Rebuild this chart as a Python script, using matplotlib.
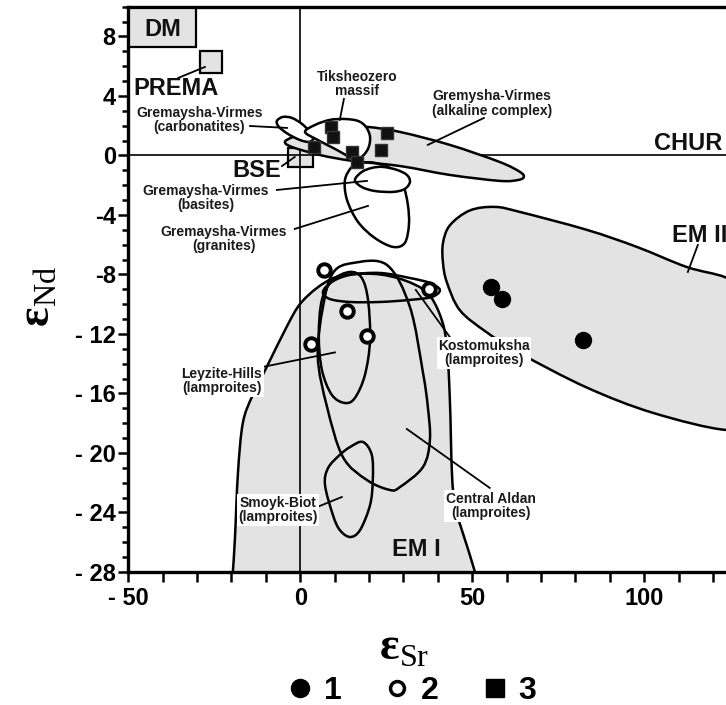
import numpy as np
import matplotlib
matplotlib.use("Agg")
import matplotlib.pyplot as plt
from matplotlib.path import Path
from matplotlib.patches import PathPatch, Rectangle
from matplotlib.lines import Line2D

plt.rcParams['font.family'] = ['Liberation Sans', 'DejaVu Sans']
plt.rcParams['mathtext.fontset'] = 'custom'
plt.rcParams['mathtext.rm'] = 'Liberation Serif'
plt.rcParams['mathtext.bf'] = 'Liberation Serif:bold'

# samples (eSr, eNd): 1 - filled circles, 2 - open circles, 3 - squares
sr1 = [55.4, 58.6, 82.2]
nd1 = [-8.84, -9.65, -12.40]
sr2 = [6.9, 37.4, 13.6, 19.4, 3.1]
nd2 = [-7.70, -8.97, -10.45, -12.13, -12.67]
sr3 = [8.9, 9.5, 4.0, 15.0, 16.5, 23.5, 25.2]
nd3 = [1.92, 1.24, 0.57, 0.24, -0.44, 0.37, 1.51]
legendLabels = ['1', '2', '3']

xTicks = [-50, 0, 50, 100]
xTickLabels = ['- 50', '0', '50', '100']
yTicks = [-28, -24, -20, -16, -12, -8, -4, 0, 4, 8]
yTickLabels = ['- 28', '- 24', '- 20', '- 16', '- 12', '-8', '-4', '0', '4', '8']

# outlines of the fields (eSr, eNd)
em1 = [(-19.9, -29.0), (-19.6, -28.0), (-19.0, -25.8), (-18.1, -21.3), (-16.7, -18.0),
       (-14.0, -16.2), (-9.7, -14.2), (-3.9, -11.5), (-0.1, -10.0), (4.9, -8.9),
       (10.1, -8.2), (15.9, -7.97), (23.2, -8.0), (30.4, -8.4), (36.8, -9.2),
       (40.6, -10.7), (42.6, -12.7), (43.5, -16.4), (44.1, -21.3), (45.0, -23.6),
       (47.3, -25.4), (50.8, -28.0), (51.4, -29.0)]
em2 = [(41.5, -7.2), (41.5, -5.9), (43.5, -4.7), (49.3, -3.7), (56.6, -3.46),
       (63.9, -3.8), (83.3, -5.0), (97.9, -6.15), (112.4, -7.5), (123.7, -8.2),
       (131.0, -9.3), (134.0, -13.0), (131.0, -17.8), (123.7, -18.45), (102.5, -17.3),
       (83.3, -15.6), (63.9, -13.3), (54.3, -11.9), (46.4, -10.4), (42.6, -8.5)]
alkaline = [(-4.45, 0.91), (-2.1, 1.24), (2.8, 1.58), (11.5, 1.92), (19.4, 1.92),
            (29.0, 1.58), (43.5, 0.71), (58.0, -0.44), (63.9, -1.11), (65.0, -1.45),
            (63.3, -1.65), (58.0, -1.71), (43.5, -1.31), (29.0, -0.71), (15.3, -0.37),
            (5.7, 0.03), (-2.4, 0.57)]
tiksheozero = [(1.4, 1.58), (4.3, 2.05), (8.6, 2.39), (13.0, 2.45), (16.8, 2.32),
               (19.1, 1.92), (20.3, 1.24), (19.7, 0.44), (17.4, -0.17), (15.0, -0.17),
               (10.1, 0.44), (5.1, 1.04)]
carbonatites = [(-6.8, 2.32), (-5.0, 2.59), (-2.4, 2.52), (0.5, 2.12), (2.8, 1.58),
                (3.7, 1.11), (2.5, 0.91), (-0.1, 1.04), (-3.6, 1.45), (-6.2, 1.92)]
basites = [(15.9, -1.65), (17.9, -1.11), (20.8, -0.84), (24.0, -0.77), (28.1, -0.97),
           (31.0, -1.31), (31.9, -1.78), (30.4, -2.25), (27.0, -2.45), (21.7, -2.39),
           (17.9, -2.12)]
granites = [(15.0, -0.77), (13.0, -1.65), (13.6, -2.99), (16.8, -4.47), (21.7, -5.55),
            (27.0, -6.15), (30.4, -5.88), (31.6, -4.67), (31.3, -3.33), (29.9, -1.98),
            (27.0, -0.97), (21.7, -0.5), (17.4, -0.5)]
leyzite = [(14.5, -7.83), (17.9, -8.24), (19.7, -9.71), (20.3, -12.4), (18.8, -14.76),
           (15.9, -16.3), (13.0, -16.64), (9.2, -16.1), (6.3, -14.42), (5.4, -12.07),
           (6.3, -9.71), (9.5, -8.37)]
kostomuksha = [(6.6, -9.18), (9.2, -8.5), (14.5, -8.03), (23.2, -7.9), (31.9, -8.24),
               (37.7, -8.57), (40.6, -9.04), (38.3, -9.51), (31.9, -9.71), (23.2, -9.85),
               (14.5, -9.85), (8.6, -9.65)]
aldan = [(15.3, -7.23), (25.2, -7.36), (31.9, -10.19), (35.7, -14.62), (37.1, -16.91),
         (37.7, -19.13), (35.7, -20.94), (29.0, -22.29), (26.1, -22.49), (19.4, -21.82),
         (12.4, -20.27), (7.8, -16.91), (5.1, -13.55), (6.6, -10.19), (9.5, -7.9)]
smoyk = [(18.2, -19.26), (20.8, -20.13), (21.1, -21.82), (20.3, -23.5), (17.4, -25.18),
         (14.5, -25.65), (11.5, -25.18), (9.5, -24.17), (7.2, -22.15), (8.1, -21.01),
         (11.5, -20.13), (14.5, -19.6)]


def smooth(pts):
    # closed catmull-rom outline turned into bezier segments
    p = np.array(pts, float)
    n = len(p)
    verts = [p[0]]
    codes = [Path.MOVETO]
    for i in range(n):
        p0, p1, p2, p3 = p[i - 1], p[i], p[(i + 1) % n], p[(i + 2) % n]
        verts += [p1 + (p2 - p0) / 6, p2 - (p3 - p1) / 6, p2]
        codes += [Path.CURVE4] * 3
    verts.append(p[0])
    codes.append(Path.CLOSEPOLY)
    return Path(verts, codes)


grey = '#e3e3e3'
fig = plt.figure(figsize=(7.26, 7.05), dpi=100)
ax = fig.add_axes([0.1767, 0.1887, 0.829, 0.8018])
ax.set_xlim(-50, 125)
ax.set_ylim(-28, 10)


def field(pts, fc='none', z=4):
    ax.add_patch(PathPatch(smooth(pts), fc=fc, ec='black', lw=1.8, zorder=z))


field(em1, grey, 1)
field(em2, grey, 1)
ax.axvline(0, color='black', lw=1.2, zorder=2)
ax.axhline(0, color='black', lw=1.2, zorder=2)

# reservoirs
ax.add_patch(Rectangle((-49.7, 7.29), 19.4, 2.6, fc=grey, ec='black', lw=1.6, zorder=3))
ax.add_patch(Rectangle((-29.1, 5.55), 6.4, 1.48, fc=grey, ec='black', lw=1.6, zorder=3))
ax.add_patch(Rectangle((-3.6, -0.77), 7.3, 1.27, fc=grey, ec='black', lw=1.6, zorder=1.5))

field(alkaline, grey, 3)
field(carbonatites, 'white', 4)
field(tiksheozero, 'white', 4)
field(granites, 'none', 4)
field(basites, 'white', 4)
for f in [leyzite, kostomuksha, aldan, smoyk]:
    field(f, 'none', 4)

# leader lines
leaders = [((-35.5, 5.21), (-27.7, 5.95)), ((-14.6, 1.98), (-3.85, 1.85)),
           ((12.7, 3.8), (11.5, 2.39)), ((53.4, 2.52), (37.1, 0.71)),
           ((-5.3, -0.71), (-1.6, -0.1)), ((-6.8, -2.32), (19.4, -1.71)),
           ((-1.6, -4.94), (19.7, -3.39)), ((115.6, -6.02), (112.7, -7.83)),
           ((-16.1, -14.46), (10.1, -13.24)), ((44.1, -12.4), (33.6, -9.04)),
           ((55.1, -22.35), (31.0, -18.39)), ((4.85, -23.64), (12.1, -22.96))]
for a, b in leaders:
    ax.plot([a[0], b[0]], [a[1], b[1]], color='black', lw=1.3, zorder=5)

small = dict(fontsize=10, fontweight='bold', color='#1a1a1a', ha='center', va='center',
             linespacing=1.05, zorder=6)
box = dict(fc='white', ec='none', pad=1)
ax.text(-29.4, 2.39, 'Gremaysha-Virmes\n(carbonatites)', **small)
ax.text(16.5, 4.81, 'Tiksheozero\nmassif', **small)
ax.text(55.7, 3.5, 'Gremysha-Virmes\n(alkaline complex)', **small)
ax.text(-27.4, -2.86, 'Gremaysha-Virmes\n(basites)', **small)
ax.text(-22.2, -5.61, 'Gremaysha-Virmes\n(granites)', **small)
ax.text(-22.8, -15.16, 'Leyzite-Hills\n(lamproites)', bbox=box, **small)
ax.text(53.4, -13.28, 'Kostomuksha\n(lamproites)', bbox=box, **small)
ax.text(55.4, -23.56, 'Central Aldan\n(lamproites)', bbox=box, **small)
ax.text(-6.4, -23.83, 'Smoyk-Biot\n(lamproites)', bbox=box, **small)

big = dict(fontsize=17, fontweight='bold', color='#111111', va='center', zorder=6)
ax.text(-39.9, 8.5, 'DM', ha='center', **big)
ax.text(-48.6, 4.47, 'PREMA', ha='left', **big)
ax.text(-12.6, -1.04, 'BSE', ha='center', **big)
ax.text(122.6, 0.83, 'CHUR', ha='right', **big)
ax.text(108.0, -5.41, 'EM II', ha='left', **big)
ax.text(33.9, -26.52, 'EM I', ha='center', **big)

ax.plot(sr1, nd1, 'o', ms=11.5, color='black', zorder=7)
ax.plot(sr2, nd2, 'o', ms=9, mfc='white', mec='black', mew=2.8, zorder=7)
ax.plot(sr3, nd3, 's', ms=9, mfc='#111111', mec='#333333', mew=1, zorder=7)

ax.spines['right'].set_visible(False)
for s in ['left', 'bottom', 'top']:
    ax.spines[s].set_linewidth(2.4)

ax.set_xticks(xTicks)
ax.set_xticklabels(xTickLabels)
ax.set_xticks(np.arange(-50, 126, 10), minor=True)
ax.set_yticks(yTicks)
ax.set_yticklabels(yTickLabels)
ax.set_yticks(np.arange(-28, 11, 1), minor=True)
ax.tick_params(axis='x', which='both', length=7, width=1.8, pad=4)
ax.tick_params(axis='y', which='major', length=7, width=1.8, pad=2)
ax.tick_params(axis='y', which='minor', length=4.5, width=1.8)
for lab in ax.get_xticklabels() + ax.get_yticklabels():
    lab.set_fontweight('bold')
    lab.set_fontsize(17)

fig.text(0.557, 0.081, r'$\mathbf{ε}_{\mathrm{Sr}}$', fontsize=33, ha='center', va='center')
fig.text(0.052, 0.579, r'$\mathbf{ε}_{\mathrm{Nd}}$', fontsize=33, ha='center', va='center',
         rotation=90)

# legend keys drawn a bit bigger than the marks in the plot
h1 = Line2D([], [], ls='none', marker='o', ms=13, color='black')
h2 = Line2D([], [], ls='none', marker='o', ms=10, mfc='white', mec='black', mew=2.5)
h3 = Line2D([], [], ls='none', marker='s', ms=12.5, color='black')
fig.legend([h1, h2, h3], legendLabels, loc='center', bbox_to_anchor=(0.567, 0.02), ncol=3,
           frameon=False, handlelength=0.8, handletextpad=0.35, columnspacing=1.35,
           prop=dict(weight='bold', size=23))

fig.savefig('out.png', dpi=100)
